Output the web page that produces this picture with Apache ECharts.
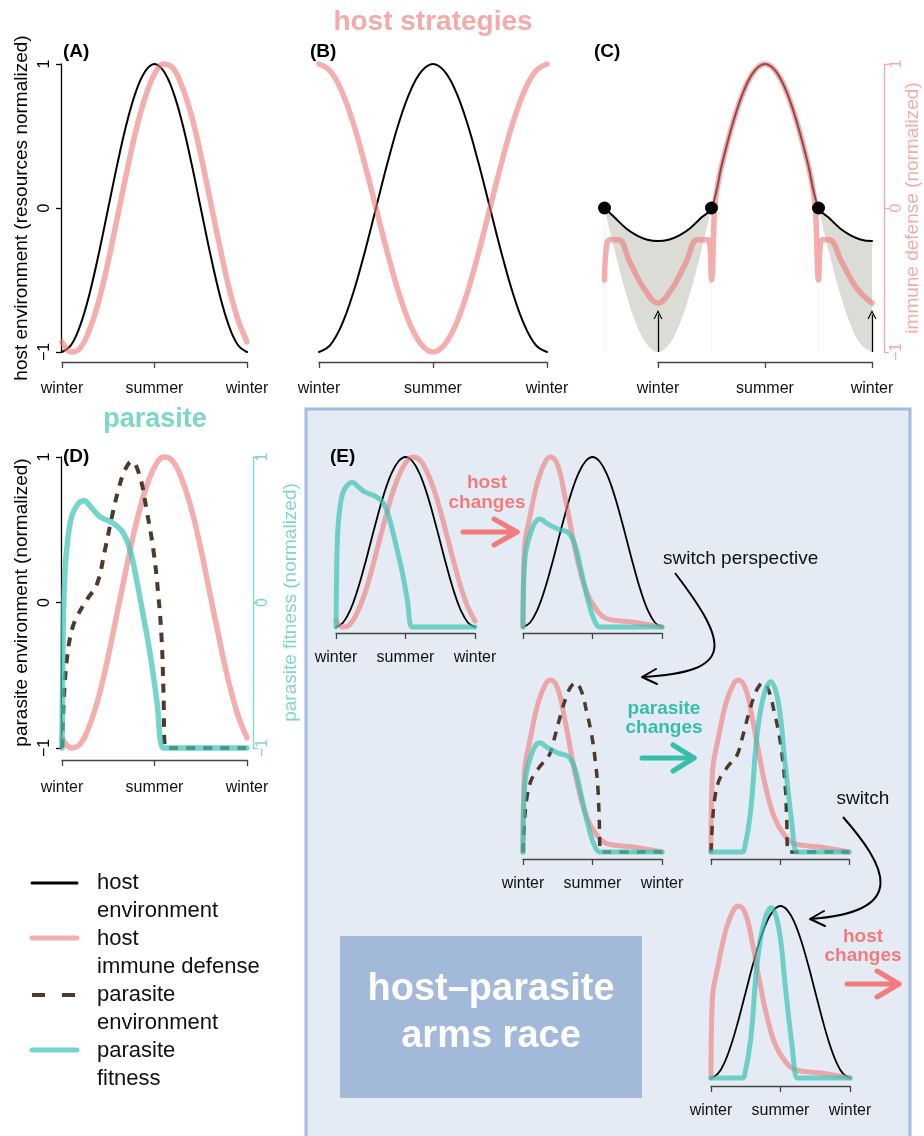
<!DOCTYPE html>
<html>
<head>
<meta charset="utf-8">
<script src="https://cdn.jsdelivr.net/npm/echarts@6/dist/echarts.min.js"></script>
<style>
html, body { margin: 0; padding: 0; background: #fff; }
#chart { width: 924px; height: 1136px; }
</style>
</head>
<body>
<div id="chart"></div>
<script>
// tick labels
var seasonLabels = ['winter', 'summer', 'winter'];
var levelLabels = ['\u22121', '0', '1'];

// x = fraction of the year (0 = winter, 0.5 = summer), y = normalized -1..1
var hostEnv = [[0,-1],[0.05,-0.95],[0.1,-0.81],[0.15,-0.59],[0.2,-0.31],[0.25,0],[0.3,0.31],[0.35,0.59],[0.4,0.81],[0.45,0.95],[0.5,1],
  [0.55,0.95],[0.6,0.81],[0.65,0.59],[0.7,0.31],[0.75,0],[0.8,-0.31],[0.85,-0.59],[0.9,-0.81],[0.95,-0.95],[1,-1]];
var immuneA = [[0,-0.93],[0.05,-1],[0.1,-0.97],[0.15,-0.84],[0.2,-0.64],[0.25,-0.37],[0.3,-0.06],[0.35,0.25],[0.4,0.54],[0.45,0.77],[0.5,0.93],
  [0.55,1],[0.6,0.97],[0.65,0.84],[0.7,0.64],[0.75,0.37],[0.8,0.06],[0.85,-0.25],[0.9,-0.54],[0.95,-0.77],[1,-0.93]];
var immuneB = [[0,1],[0.05,0.95],[0.1,0.81],[0.15,0.59],[0.2,0.31],[0.25,0],[0.3,-0.31],[0.35,-0.59],[0.4,-0.81],[0.45,-0.95],[0.5,-1],
  [0.55,-0.95],[0.6,-0.81],[0.65,-0.59],[0.7,-0.31],[0.75,0],[0.8,0.31],[0.85,0.59],[0.9,0.81],[0.95,0.95],[1,1]];

// panel C starts at the autumn equinox (-0.25)
var envC = [[-0.25,0],[-0.2,-0.07],[-0.15,-0.14],[-0.1,-0.19],[-0.05,-0.22],[0,-0.23],[0.05,-0.22],[0.1,-0.19],[0.15,-0.14],[0.2,-0.07],[0.25,0],
  [0.3,0.31],[0.35,0.59],[0.4,0.81],[0.45,0.95],[0.5,1],[0.55,0.95],[0.6,0.81],[0.65,0.59],[0.7,0.31],[0.75,0],
  [0.8,-0.07],[0.85,-0.14],[0.9,-0.19],[0.95,-0.22],[1,-0.23]];
var shadeLowC1 = [[-0.25,0],[-0.2,-0.31],[-0.15,-0.59],[-0.1,-0.81],[-0.05,-0.95],[0,-1],[0.05,-0.95],[0.1,-0.81],[0.15,-0.59],[0.2,-0.31],[0.25,0]];
var shadeLowC2 = [[0.75,0],[0.8,-0.31],[0.85,-0.59],[0.9,-0.81],[0.95,-0.95],[1,-1]];
var immuneC = [[-0.25,-0.5],[-0.24,-0.26],[-0.225,-0.22],[-0.185,-0.22],[-0.13,-0.38],[-0.065,-0.56],[0,-0.66],[0.065,-0.56],[0.13,-0.38],[0.185,-0.22],[0.235,-0.22],
  [0.25,-0.5],[0.265,0],[0.28,0.17],[0.3,0.31],[0.35,0.59],[0.4,0.81],[0.45,0.95],[0.5,1],[0.55,0.95],[0.6,0.81],[0.65,0.59],[0.7,0.31],[0.72,0.17],[0.735,0],
  [0.75,-0.5],[0.758,-0.26],[0.768,-0.22],[0.8,-0.22],[0.86,-0.38],[0.93,-0.56],[1,-0.66]];
var dotsC = [[-0.25,0],[0.25,0],[0.75,0]];
var arrowsC = [[0,-1,-0.74],[1,-1,-0.74]];

// parasite
var fitnessD = [[0,-1],[0.006,-0.2],[0.012,0.1],[0.025,0.36],[0.052,0.59],[0.088,0.68],[0.119,0.7],[0.16,0.65],[0.205,0.59],[0.276,0.545],[0.33,0.48],
  [0.368,0.36],[0.404,0.15],[0.438,-0.08],[0.476,-0.35],[0.512,-0.67],[0.546,-1],[0.57,-1],[1,-1]];
var parasiteEnv = [[0,-1],[0.012,-0.62],[0.03,-0.35],[0.055,-0.18],[0.08,-0.1],[0.115,-0.02],[0.14,0.03],[0.19,0.13],[0.232,0.36],[0.27,0.59],[0.308,0.79],
  [0.34,0.91],[0.377,0.97],[0.42,0.87],[0.458,0.63],[0.494,0.36],[0.52,0.06],[0.539,-0.26],[0.548,-0.59],[0.56,-1],[0.58,-1],[1,-1]];
var immuneE = [[0,-1],[0.01,-0.08],[0.05,0.3],[0.11,0.74],[0.165,0.96],[0.2,1],[0.25,0.9],[0.3,0.55],[0.35,0.12],[0.4,-0.27],[0.46,-0.6],
  [0.53,-0.8],[0.6,-0.9],[0.78,-0.94],[1,-1]];
var fitnessE2 = [[0,-1],[0.012,-0.23],[0.06,0.13],[0.12,0.27],[0.18,0.21],[0.253,0.15],[0.325,0.11],[0.373,-0.03],[0.42,-0.35],[0.47,-0.7],
  [0.518,-0.94],[0.554,-1],[0.58,-1],[1,-1]];
var fitnessE4 = [[0,-1],[0.22,-1],[0.24,-0.98],[0.286,-0.54],[0.333,0.35],[0.381,0.81],[0.433,0.98],[0.488,0.74],[0.536,0.04],[0.583,-0.62],
  [0.62,-1],[0.64,-1],[1,-1]];

var FONT = '"Liberation Sans", Arial, Helvetica, sans-serif';
var BLACK = '#000';
var PINK = 'rgba(239,120,120,0.6)';
var TEAL = 'rgba(60,195,180,0.7)';
var BROWN = '#4d3a2a';
var AXIS = '#444';
var PINK_TXT = '#f4aaaa';
var TEAL_TXT = '#7ed6cb';

function seasonAxis(grid, offset, labels, margin) {
    return {
        type: 'value', gridIndex: grid, min: 0, max: 1, interval: 0.5, offset: offset,
        axisLine: { show: true, onZero: false, lineStyle: { color: AXIS, width: 1.3 } },
        axisTick: { show: true, length: 6, lineStyle: { color: AXIS, width: 1.3 } },
        axisLabel: {
            show: labels, margin: margin, fontSize: 16, fontFamily: FONT, color: '#111',
            showMinLabel: true, showMaxLabel: true,
            formatter: function (v) { return seasonLabels[Math.round(v * 2)]; }
        },
        splitLine: { show: false }
    };
}

function levelAxis(grid, position, color, name, nameGap, margin, offset) {
    return {
        type: 'value', gridIndex: grid, min: -1, max: 1, interval: 1, position: position, offset: offset,
        name: name, nameLocation: 'middle', nameGap: nameGap, nameRotate: 90, nameMoveOverlap: false,
        nameTextStyle: { color: color, fontSize: 19, fontFamily: FONT },
        axisLine: { show: true, onZero: false, lineStyle: { color: color, width: 1.3 } },
        axisTick: { show: true, length: 5, lineStyle: { color: color, width: 1.3 } },
        axisLabel: {
            show: true, rotate: 90, margin: margin, fontSize: 16, fontFamily: FONT, color: color,
            showMinLabel: true, showMaxLabel: true,
            formatter: function (v) { return levelLabels[Math.round(v) + 1]; }
        },
        splitLine: { show: false }
    };
}

function hidden(grid, min, max) {
    return { type: 'value', gridIndex: grid, min: min, max: max, show: false, splitLine: { show: false } };
}

function line(data, xi, yi, color, width, dash) {
    return {
        type: 'line', data: data, xAxisIndex: xi, yAxisIndex: yi, symbol: 'none', showSymbol: false,
        smooth: 0.4, clip: false, silent: true,
        lineStyle: { color: color, width: width, type: dash ? [9, 8] : 'solid', cap: dash ? 'butt' : 'round', join: 'round' }
    };
}

// filled band: area under the upper edge in grey, then the part under the lower edge painted back to white
function fillDown(data, color) {
    return {
        type: 'line', data: data, xAxisIndex: 2, yAxisIndex: 2, symbol: 'none', showSymbol: false,
        smooth: 0.4, clip: false, silent: true,
        lineStyle: { width: 0, opacity: 0 },
        areaStyle: { color: color, opacity: 1, origin: 'start' }
    };
}

function txt(x, y, text, size, color, bold, align) {
    return {
        type: 'text', x: x, y: y, silent: true,
        style: { text: text, fontSize: size, fontFamily: FONT, fontWeight: bold ? 'bold' : 'normal',
                 fill: color, align: align || 'center', verticalAlign: 'middle' }
    };
}

function seg(points, color, width, dash) {
    return {
        type: 'polyline', silent: true, shape: { points: points },
        style: { stroke: color, lineWidth: width, fill: null, lineCap: dash ? 'butt' : 'round', lineJoin: 'round', lineDash: dash || null }
    };
}

function curve(p0, c1, c2, p1) {
    return {
        type: 'bezierCurve', silent: true,
        shape: { x1: p0[0], y1: p0[1], cpx1: c1[0], cpy1: c1[1], cpx2: c2[0], cpy2: c2[1], x2: p1[0], y2: p1[1] },
        style: { stroke: '#000', lineWidth: 2, fill: null }
    };
}

var chevron = 'path://M0,10 L5,0 L10,10 L8.6,10 L5,2.6 L1.4,10 Z';

var chartDom = document.getElementById('chart');
var myChart = echarts.init(chartDom, null, { renderer: 'canvas' });
var option;

var gridBase = { containLabel: false, outerBoundsMode: 'none', show: false };
function grid(l, t, w, h) { return Object.assign({ left: l, top: t, width: w, height: h }, gridBase); }

var envCWinter1 = envC.filter(function (p) { return p[0] <= 0.25; });
var envCWinter2 = envC.filter(function (p) { return p[0] >= 0.75; });

var series = [];
// A
series.push(line(hostEnv, 0, 0, BLACK, 2));
series.push(line(immuneA, 0, 0, PINK, 5.5));
// B
series.push(line(hostEnv, 1, 1, BLACK, 2));
series.push(line(immuneB, 1, 1, PINK, 5.5));
// C
series.push(fillDown(envCWinter1, '#dcdcd7'));
series.push(fillDown(shadeLowC1, '#ffffff'));
series.push(fillDown(envCWinter2, '#dcdcd7'));
series.push(fillDown(shadeLowC2, '#ffffff'));
series.push(line(envC, 2, 2, BLACK, 2));
series.push(line(immuneC, 2, 2, PINK, 5.5));
series.push({
    type: 'scatter', data: dotsC, xAxisIndex: 2, yAxisIndex: 2, symbol: 'circle', symbolSize: 13,
    itemStyle: { color: '#000', opacity: 1 }, silent: true, clip: false, z: 5,
    markLine: {
        silent: true, animation: false, symbol: ['none', chevron], symbolSize: [9, 9],
        label: { show: false },
        lineStyle: { color: '#000', width: 1.3, type: 'solid', opacity: 1 },
        data: arrowsC.map(function (a) { return [{ coord: [a[0], a[1]] }, { coord: [a[0], a[2]] }]; })
    }
});
// D
series.push(line(immuneA, 4, 4, PINK, 5.5));
series.push(line(parasiteEnv, 4, 4, BROWN, 4, true));
series.push(line(fitnessD, 4, 4, TEAL, 5.5));
// E
series.push(line(hostEnv, 5, 6, BLACK, 1.8));
series.push(line(immuneA, 5, 6, PINK, 5));
series.push(line(fitnessD, 5, 6, TEAL, 5));
series.push(line(hostEnv, 6, 7, BLACK, 1.8));
series.push(line(immuneE, 6, 7, PINK, 5));
series.push(line(fitnessE2, 6, 7, TEAL, 5));
series.push(line(immuneE, 7, 8, PINK, 5));
series.push(line(parasiteEnv, 7, 8, BROWN, 3.5, true));
series.push(line(fitnessE2, 7, 8, TEAL, 5));
series.push(line(immuneE, 8, 9, PINK, 5));
series.push(line(parasiteEnv, 8, 9, BROWN, 3.5, true));
series.push(line(fitnessE4, 8, 9, TEAL, 5));
series.push(line(hostEnv, 9, 10, BLACK, 1.8));
series.push(line(immuneE, 9, 10, PINK, 5));
series.push(line(fitnessE4, 9, 10, TEAL, 5));

var graphics = [
    { type: 'rect', z: -10, silent: true, shape: { x: 306, y: 409, width: 604, height: 740 },
      style: { fill: '#e5ebf4', stroke: '#a3bcdb', lineWidth: 3 } },
    { type: 'rect', z: -5, silent: true, shape: { x: 340, y: 936, width: 302, height: 162 },
      style: { fill: '#a2b9d9' } },
    txt(491, 990, 'host\u2013parasite', 38, '#fff', true),
    txt(491, 1037, 'arms race', 38, '#fff', true),
    txt(433, 22, 'host strategies', 28, PINK_TXT, true),
    txt(155, 420, 'parasite', 27, TEAL_TXT, true),
    txt(63, 52, '(A)', 19, '#000', true, 'left'),
    txt(310, 52, '(B)', 19, '#000', true, 'left'),
    txt(594, 52, '(C)', 19, '#000', true, 'left'),
    txt(63, 457, '(D)', 19, '#000', true, 'left'),
    txt(330, 457, '(E)', 19, '#000', true, 'left'),
    // host changes (top)
    txt(487, 483, 'host', 19, '#f07c7c', true),
    txt(487, 503, 'changes', 19, '#f07c7c', true),
    seg([[463, 532], [517, 532]], '#f07c7c', 5),
    seg([[494, 519], [517, 532], [494, 545]], '#f07c7c', 5),
    // switch perspective
    txt(663, 559, 'switch perspective', 19, '#111', false, 'left'),
    curve([675, 573], [730, 645], [735, 672], [642, 677]),
    seg([[656, 669], [642, 677], [657, 684]], '#000', 2),
    // parasite changes
    txt(664, 709, 'parasite', 19, '#35bfa8', true),
    txt(664, 728, 'changes', 19, '#35bfa8', true),
    seg([[642, 758], [694, 758]], '#35bfa8', 5),
    seg([[673, 745], [694, 758], [673, 771]], '#35bfa8', 5),
    // switch
    txt(863, 799, 'switch', 19, '#111', false),
    curve([843, 817], [885, 865], [912, 912], [810, 919]),
    seg([[824, 911], [810, 919], [825, 926]], '#000', 2),
    // host changes (bottom)
    txt(863, 937, 'host', 19, '#f07c7c', true),
    txt(863, 956, 'changes', 19, '#f07c7c', true),
    seg([[847, 984], [899, 984]], '#f07c7c', 5),
    seg([[877, 971], [899, 984], [877, 997]], '#f07c7c', 5),
    // legend
    seg([[32, 883], [77, 883]], '#000', 3),
    seg([[32, 938], [77, 938]], PINK, 5),
    seg([[32, 995], [77, 995]], BROWN, 4, [13, 17]),
    seg([[32, 1050], [77, 1050]], TEAL, 5),
    txt(97, 883, 'host', 22, '#111', false, 'left'),
    txt(97, 911, 'environment', 22, '#111', false, 'left'),
    txt(97, 939, 'host', 22, '#111', false, 'left'),
    txt(97, 967, 'immune defense', 22, '#111', false, 'left'),
    txt(97, 995, 'parasite', 22, '#111', false, 'left'),
    txt(97, 1023, 'environment', 22, '#111', false, 'left'),
    txt(97, 1051, 'parasite', 22, '#111', false, 'left'),
    txt(97, 1079, 'fitness', 22, '#111', false, 'left')
];

option = {
    backgroundColor: '#fff',
    animation: false,
    grid: [
        grid(62, 64, 185, 288),     // A
        grid(319, 64, 228, 288),    // B
        grid(604.5, 64, 267.5, 288),// C data
        grid(658, 64, 214, 288),    // C axes
        grid(62, 457, 185, 291),    // D
        grid(336, 457, 139, 170),   // E1
        grid(523, 457, 139, 170),   // E2
        grid(523, 680, 139, 172),   // E3
        grid(711, 680, 138, 172),   // E4
        grid(711, 906, 139, 172)    // E5
    ],
    xAxis: [
        seasonAxis(0, 10, true, 19),
        seasonAxis(1, 10, true, 19),
        hidden(2, -0.25, 1),
        seasonAxis(3, 10, true, 19),
        seasonAxis(4, 12, true, 20),
        seasonAxis(5, 6, true, 17),
        seasonAxis(6, 6, false, 17),
        seasonAxis(7, 7, true, 17),
        seasonAxis(8, 7, false, 17),
        seasonAxis(9, 8, true, 17)
    ],
    yAxis: [
        levelAxis(0, 'left', '#000', 'host environment (resources normalized)', 30, 8, 1),
        hidden(1, -1, 1),
        hidden(2, -1, 1),
        levelAxis(3, 'right', PINK_TXT, 'immune defense (normalized)', 19, 5, 12),
        levelAxis(4, 'left', '#000', 'parasite environment (normalized)', 30, 8, 1),
        levelAxis(4, 'right', TEAL_TXT, 'parasite fitness (normalized)', 28, 2, 6),
        hidden(5, -1, 1),
        hidden(6, -1, 1),
        hidden(7, -1, 1),
        hidden(8, -1, 1),
        hidden(9, -1, 1)
    ],
    graphic: graphics,
    series: series
};

option && myChart.setOption(option);
</script>
</body>
</html>
